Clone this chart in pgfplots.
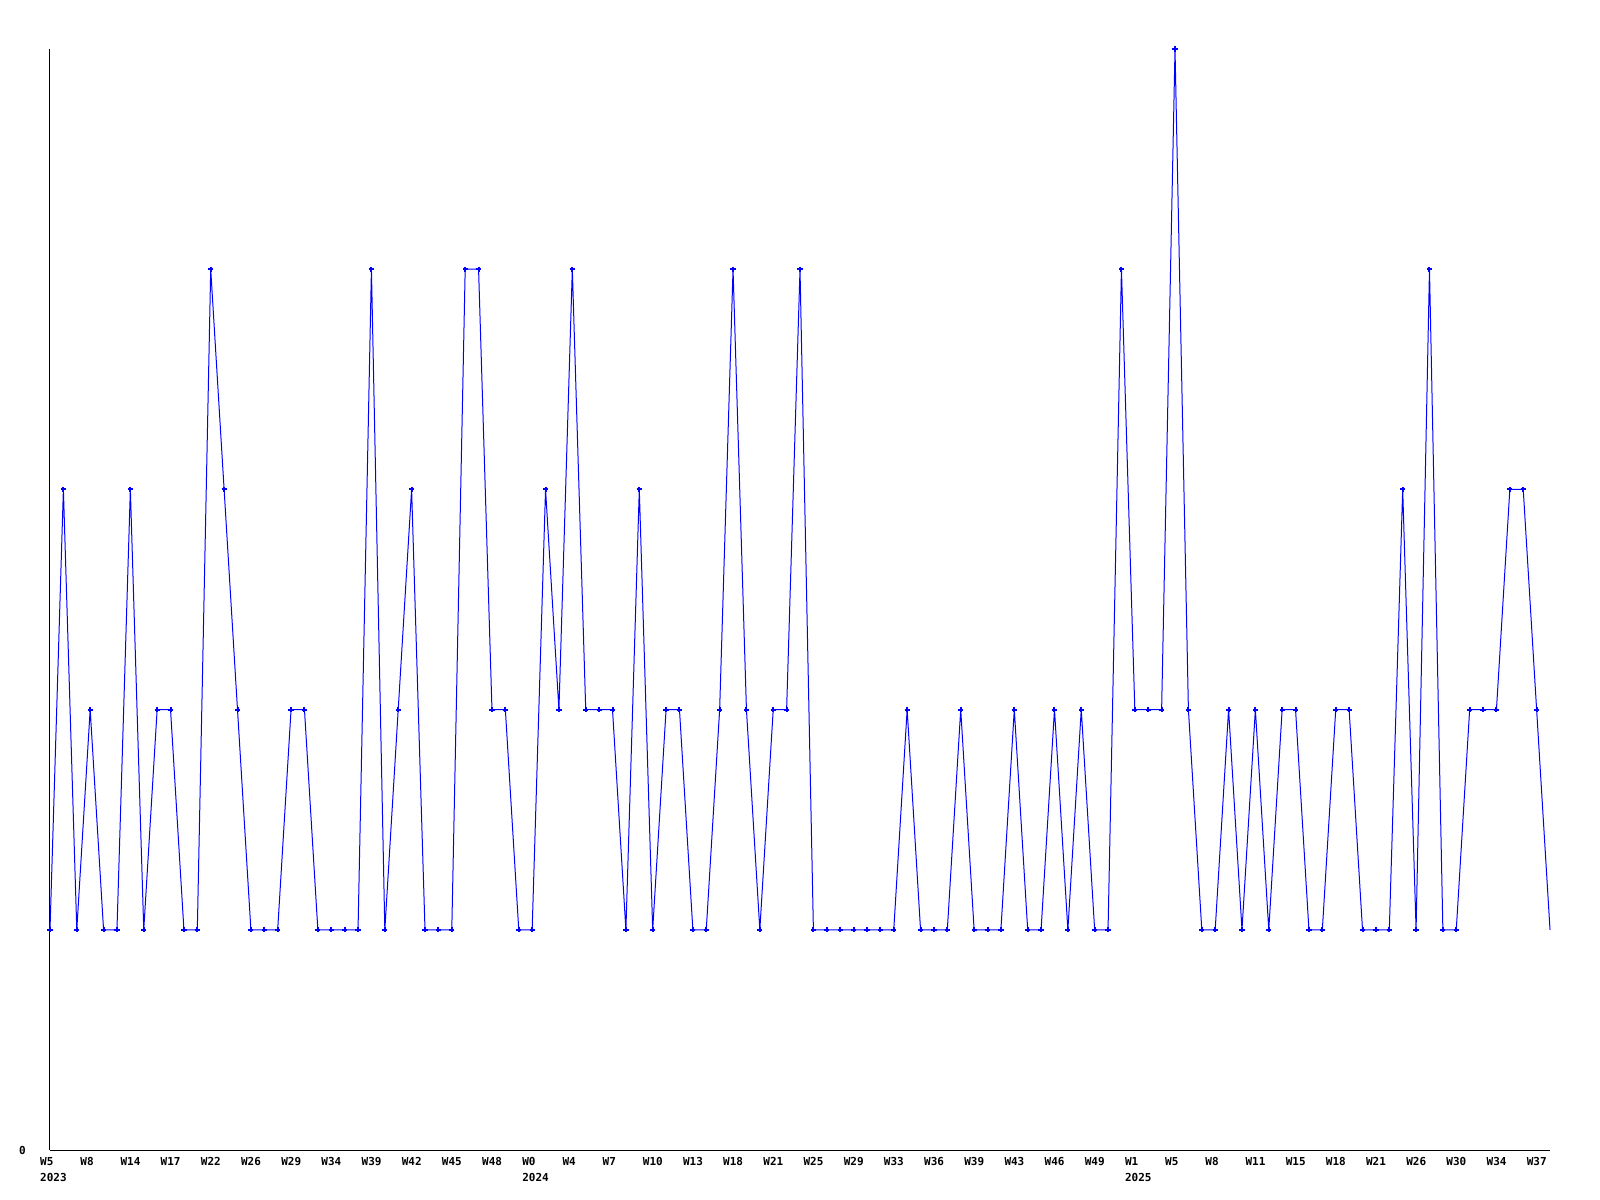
\documentclass[border=0pt]{standalone}
\usepackage{pgfplots}
\pgfplotsset{compat=1.18}
\usepackage{pgfplotstable}
\usepackage{fontspec}
\newfontfamily\monofont{DejaVu Sans Mono}

% weekly counts, one row per week
\pgfplotstableread{
x y
0 1
1 3
2 1
3 2
4 1
5 1
6 3
7 1
8 2
9 2
10 1
11 1
12 4
13 3
14 2
15 1
16 1
17 1
18 2
19 2
20 1
21 1
22 1
23 1
24 4
25 1
26 2
27 3
28 1
29 1
30 1
31 4
32 4
33 2
34 2
35 1
36 1
37 3
38 2
39 4
40 2
41 2
42 2
43 1
44 3
45 1
46 2
47 2
48 1
49 1
50 2
51 4
52 2
53 1
54 2
55 2
56 4
57 1
58 1
59 1
60 1
61 1
62 1
63 1
64 2
65 1
66 1
67 1
68 2
69 1
70 1
71 1
72 2
73 1
74 1
75 2
76 1
77 2
78 1
79 1
80 4
81 2
82 2
83 2
84 5
85 2
86 1
87 1
88 2
89 1
90 2
91 1
92 2
93 2
94 1
95 1
96 2
97 2
98 1
99 1
100 1
101 3
102 1
103 4
104 1
105 1
106 2
107 2
108 2
109 3
110 3
111 2
112 1
}\weekly

\begin{document}
\begin{tikzpicture}
\path[use as bounding box] (0,0) rectangle (1600bp,1200bp);
\begin{axis}[
  scale only axis,
  width=1500bp, height=1101bp,
  at={(50bp,50bp)}, anchor=south west,
  xmin=0, xmax=112, ymin=0, ymax=5,
  axis x line*=bottom, axis y line*=left,
  axis line style={black, line width=1bp},
  xtick={0,3,...,111},
  xticklabels={{W5\\2023},W8,W14,W17,W22,W26,W29,W34,W39,W42,W45,W48,
    {W0\\2024},W4,W7,W10,W13,W18,W21,W25,W29,W33,W36,W39,W43,W46,W49,
    {W1\\2025},W5,W8,W11,W15,W18,W21,W26,W30,W34,W37},
  ytick={0},
  major tick length=0pt,
  /pgf/number format/assume math mode=true,
  tick label style={font=\monofont\bfseries\fontsize{11bp}{16bp}\selectfont, inner sep=0pt},
  xticklabel style={anchor=north west, align=left, xshift=-10bp, yshift=-7bp},
  yticklabel style={anchor=east, xshift=-24bp},
  clip=false,
]
\addplot[blue, line width=1bp, no markers] table[x=x, y=y] {\weekly};
\addplot[blue, only marks, mark=+, mark size=2.6bp,
  mark options={line width=2bp},
  skip coords between index={112}{113}] table[x=x, y=y] {\weekly};
\end{axis}
\end{tikzpicture}
\end{document}
